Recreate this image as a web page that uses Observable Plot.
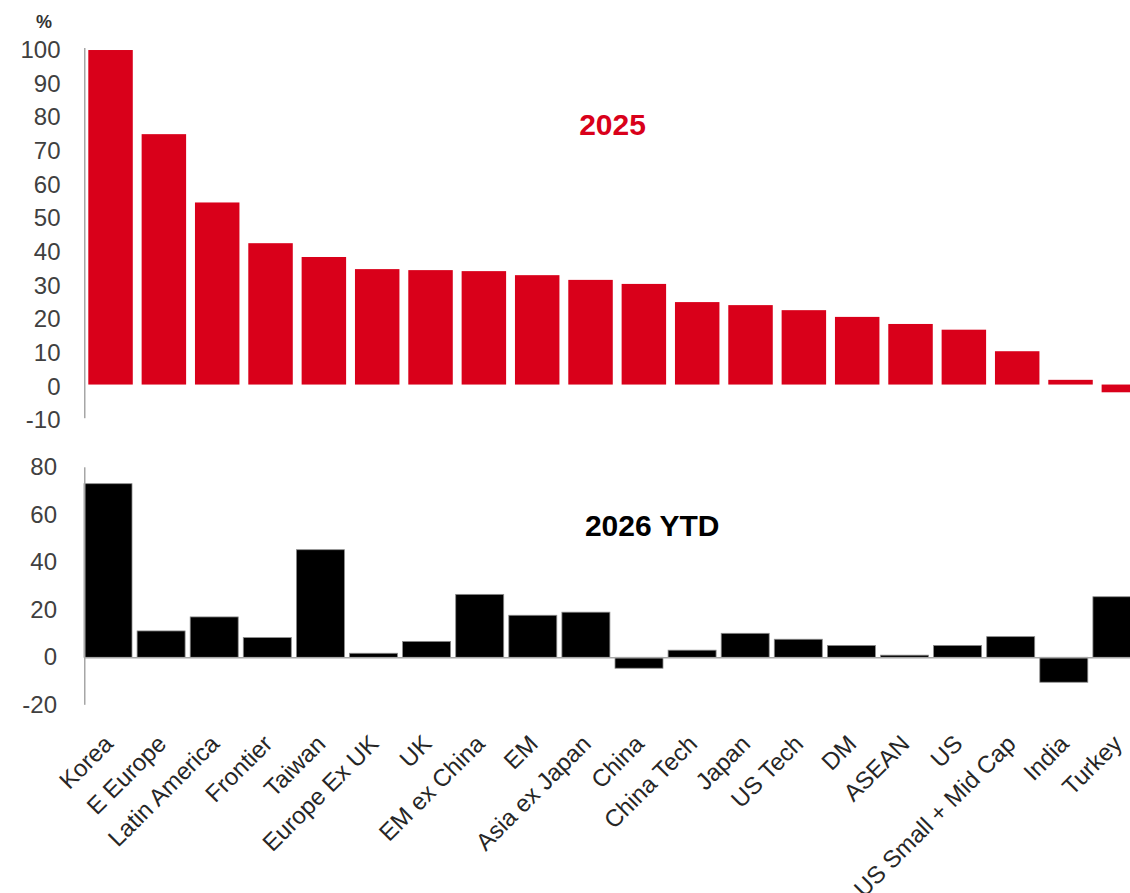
<!DOCTYPE html>
<html>
<head>
<meta charset="utf-8">
<script src="https://cdn.jsdelivr.net/npm/d3@7"></script>
<script src="https://cdn.jsdelivr.net/npm/@observablehq/plot@0.6"></script>
<style>
  body { margin: 0; background: #fff; }
  #wrap { position: relative; width: 1130px; height: 893px; overflow: hidden; background: #fff; }
  #top, #bottom { position: absolute; left: 0; }
  #top { top: 0; }
  #bottom { top: 440px; }
</style>
</head>
<body>
<div id="wrap"><div id="top"></div><div id="bottom"></div></div>
<script>
const categories = ["Korea", "E Europe", "Latin America", "Frontier", "Taiwan", "Europe Ex UK", "UK",
  "EM ex China", "EM", "Asia ex Japan", "China", "China Tech", "Japan", "US Tech", "DM", "ASEAN", "US",
  "US Small + Mid Cap", "India", "Turkey"];
const values2025 = [99.4, 74.4, 54.1, 42.0, 37.9, 34.3, 34.0, 33.7, 32.5, 31.1, 29.9, 24.5, 23.6, 22.1,
  20.1, 18.0, 16.3, 9.9, 1.4, -2.3];
const values2026 = [73.1, 11.1, 17.0, 8.3, 45.3, 1.7, 6.7, 26.5, 17.7, 19.0, -4.6, 3.0, 10.1, 7.6,
  5.0, 0.9, 5.0, 8.7, -10.5, 25.5];
const yTicks2025 = [-10, 0, 10, 20, 30, 40, 50, 60, 70, 80, 90, 100];
const yTicks2026 = [-20, 0, 20, 40, 60, 80];
const title2025 = "2025";
const title2026 = "2026 YTD";
const unitLabel = "%";

const FONT = "'Liberation Sans', Arial, Helvetica, sans-serif";
const RED = "#d9001a";
const AXIS = "#a6a6a6";

const data2025 = categories.map((c, i) => ({category: c, value: values2025[i]}));
const data2026 = categories.map((c, i) => ({category: c, value: values2026[i]}));

const topChart = Plot.plot({
  width: 1130,
  height: 440,
  marginLeft: 84,
  marginRight: 0,
  marginTop: 48,
  marginBottom: 21.8,
  style: {fontFamily: FONT, background: "transparent", overflow: "hidden"},
  x: {domain: categories, range: [88.3, 1146.1], paddingInner: 0.166, paddingOuter: 0, round: false, axis: null},
  y: {domain: [-10, 100], axis: null},
  marks: [
    Plot.barY(data2025, {x: "category", y: "value", fill: RED}),
    Plot.barY([0], {y1: -10, y2: 100, fill: AXIS, insetRight: 1130 - 84 - 1.5}),
    Plot.axisY({ticks: yTicks2025, tickSize: 0, tickPadding: 24, fontSize: 24, color: "#404040",
      tickFormat: d => String(d), label: null, dy: 2}),
    Plot.text([unitLabel], {text: d => d, frameAnchor: "top-left", dx: -40.5, dy: -26,
      textAnchor: "middle", lineAnchor: "middle", fontSize: 18, fontWeight: "bold", fill: "#333"}),
    Plot.text([title2025], {text: d => d, frameAnchor: "top-left", dx: 528, dy: 77,
      textAnchor: "middle", lineAnchor: "middle", fontSize: 30, fontWeight: "bold", fill: RED})
  ]
});
document.getElementById("top").appendChild(topChart);

const bottomChart = Plot.plot({
  width: 1130,
  height: 453,
  marginLeft: 84,
  marginRight: 0,
  marginTop: 27.3,
  marginBottom: 188.2,
  style: {fontFamily: FONT, background: "transparent", overflow: "visible"},
  x: {domain: categories, range: [84, 1140.9], paddingInner: 0.096, paddingOuter: 0, round: false, axis: null},
  y: {domain: [-20, 80], axis: null},
  marks: [
    Plot.barY(data2026, {x: "category", y: "value", fill: "#000", stroke: "#8c8c8c", strokeWidth: 0.8}),
    Plot.ruleY([0], {stroke: AXIS, strokeWidth: 1.5}),
    Plot.barY([0], {y1: -20, y2: 80, fill: AXIS, insetRight: 1130 - 84 - 1.5}),
    Plot.axisY({ticks: yTicks2026, tickSize: 0, tickPadding: 27.5, fontSize: 24, color: "#404040",
      tickFormat: d => String(d), label: null}),
    Plot.text(categories, {x: d => d, text: d => d, frameAnchor: "bottom", rotate: -45,
      textAnchor: "end", lineAnchor: "bottom", dx: 6, dy: 40, fontSize: 24, fill: "#262626"}),
    Plot.text([title2026], {text: d => d, frameAnchor: "top-left", dx: 567.7, dy: 58.2,
      textAnchor: "middle", lineAnchor: "middle", fontSize: 30, fontWeight: "bold", fill: "#000"})
  ]
});
document.getElementById("bottom").appendChild(bottomChart);
</script>
</body>
</html>
